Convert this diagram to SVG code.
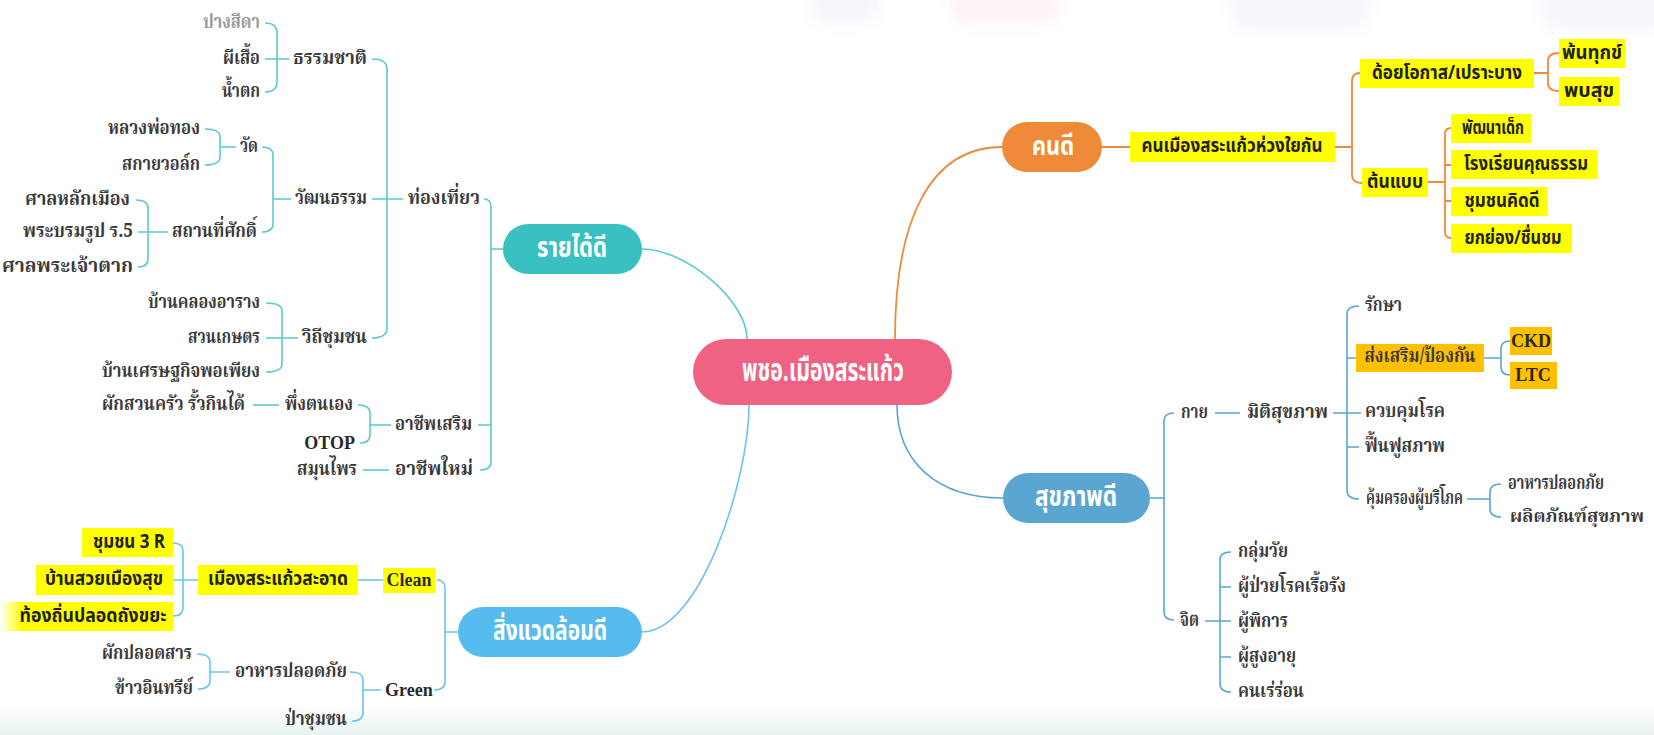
<svg xmlns="http://www.w3.org/2000/svg" width="1654" height="735" viewBox="0 0 1654 735">
<style>
.t{font-family:"Noto Serif Thai","Noto Sans Thai","Noto Sans","DejaVu Sans",sans-serif;font-size:20px;font-weight:bold;fill:#3a3a3a;dominant-baseline:central}
.c{font-family:"Noto Sans Thai","Noto Sans","DejaVu Sans",sans-serif;font-size:19px;font-weight:bold;fill:#222;dominant-baseline:central;text-anchor:middle}
.e{font-family:"Liberation Serif","Times New Roman",serif;font-size:18px;font-weight:bold;fill:#2a2a2a;dominant-baseline:central}
.n{font-family:"Noto Sans Thai","Noto Sans","DejaVu Sans",sans-serif;font-weight:bold;fill:#fff;dominant-baseline:central;text-anchor:middle}
.end{text-anchor:end}
.yl{fill:#ffff00}
.am{fill:#ffc000}
.lt{fill:none;stroke:#5ccaca;stroke-width:1.6}
.lb{fill:none;stroke:#6cc4ee;stroke-width:1.6}
.lo{fill:none;stroke:#ee8b3b;stroke-width:1.8}
.ls{fill:none;stroke:#5aa6d1;stroke-width:1.6}
.wm{opacity:0.07}
</style>
<defs>
<linearGradient id="fade" x1="0" y1="0" x2="1" y2="0">
<stop offset="0" stop-color="#ffff00" stop-opacity="0"/>
<stop offset="0.13" stop-color="#ffff00" stop-opacity="1"/>
<stop offset="1" stop-color="#ffff00"/>
</linearGradient>
<linearGradient id="band" x1="0" y1="0" x2="0" y2="1">
<stop offset="0" stop-color="#ffffff"/>
<stop offset="1" stop-color="#e8f1f1"/>
</linearGradient>
<filter id="blur" x="-20%" y="-50%" width="140%" height="200%"><feGaussianBlur stdDeviation="6"/></filter>
</defs>
<rect width="1654" height="735" fill="#fff"/>
<rect x="0" y="705" width="1654" height="30" fill="url(#band)"/>
<g filter="url(#blur)">
<rect class="wm" x="810" y="-20" width="70" height="45" rx="20" fill="#8a7bd6"/>
<rect class="wm" x="950" y="-20" width="110" height="45" rx="20" fill="#e46a8a"/>
<rect class="wm" x="1230" y="-20" width="140" height="50" rx="20" fill="#8a86d6"/>
<rect class="wm" x="1540" y="-20" width="130" height="50" rx="20" fill="#8a86d6"/>
</g>

<g id="connectors">
<path class="lt" d="M642,249 C685,249 747,300 747,339"/>
<path class="lb" d="M749,405 C749,480 700,632 642,632"/>
<path class="lo" d="M895,339 C895,220 930,147 1002,147"/>
<path class="ls" d="M897,405 C897,460 935,498 1003,498"/>
<path class="lt" d="M265,23 Q277,23 277,33 L277,82 Q277,92 265,92 M265,59 L289,59"/>
<path class="lt" d="M372,59 Q387,59 387,69 L387,328 Q387,338 372,338 M372,199 L403,199"/>
<path class="lt" d="M205,129 Q220,129 220,137 L220,157 Q220,165 205,165 M220,147 L236,147"/>
<path class="lt" d="M262,147 Q273,147 273,155 L273,224 Q273,232 262,232 M273,199 L291,199"/>
<path class="lt" d="M136,200 Q148,200 148,208 L148,259 Q148,267 138,267 M138,232 L168,232"/>
<path class="lt" d="M266,303 Q282,303 282,311 L282,364 Q282,372 266,372 M266,338 L298,338"/>
<path class="lt" d="M253,405 L279,405"/>
<path class="lt" d="M358,405 Q370,405 370,413 L370,435 Q370,443 360,443 M370,425 L391,425"/>
<path class="lt" d="M363,470 L389,470"/>
<path class="lt" d="M484,199 Q491,199 491,207 L491,462 Q491,470 480,470 M478,425 L491,425 M491,249 L503,249"/>
<path class="lb" d="M173,543 Q183,543 183,551 L183,608 Q183,616 173,616 M173,580 L198,580"/>
<path class="lb" d="M358,580 L383,580"/>
<path class="lb" d="M437,580 Q445,580 445,588 L445,682 Q445,690 434,690 M445,632 L458,632"/>
<path class="lb" d="M350,672 Q363,672 363,680 L363,713 Q363,721 352,721 M363,690 L381,690"/>
<path class="lb" d="M197,654 Q210,654 210,662 L210,681 Q210,689 198,689 M210,672 L230,672"/>
<path class="lo" d="M1102,147 L1130,147 M1335,147 L1352,147"/>
<path class="lo" d="M1360,73 Q1352,73 1352,81 L1352,175 Q1352,183 1362,183"/>
<path class="lo" d="M1534,73 L1548,73 M1559,53 Q1548,53 1548,61 L1548,83 Q1548,91 1559,91"/>
<path class="lo" d="M1428,182 L1445,182 M1451,128 Q1445,128 1445,134 L1445,232 Q1445,238 1451,238 M1445,165 L1451,165 M1445,201 L1451,201"/>
<path class="ls" d="M1150,498 L1164,498 M1174,413 Q1164,413 1164,421 L1164,612 Q1164,620 1174,620"/>
<path class="ls" d="M1215,413 L1240,413 M1333,413 L1361,413"/>
<path class="ls" d="M1359,306 Q1347,306 1347,314 L1347,490 Q1347,499 1359,499 M1347,358 L1356,358 M1347,447 L1359,447"/>
<path class="ls" d="M1484,358 L1501,358 M1510,341 Q1501,341 1501,349 L1501,367 Q1501,375 1510,375"/>
<path class="ls" d="M1467,499 L1490,499 M1501,484 Q1490,484 1490,492 L1490,509 Q1490,517 1501,517"/>
<path class="ls" d="M1205,621 L1231,621 M1231,552 Q1220,552 1220,560 L1220,684 Q1220,692 1231,692 M1220,587 L1231,587 M1220,657 L1231,657"/>
</g>

<g id="center">
<rect x="693" y="339" width="259" height="66" rx="33" fill="#f06282"/>
<text class="n" x="823" y="371" font-size="32" textLength="162" lengthAdjust="spacingAndGlyphs">พชอ.เมืองสระแก้ว</text>
</g>

<g id="income">
<rect x="503" y="224" width="139" height="50" rx="25" fill="#38c1c0"/>
<text class="n" x="572" y="248" font-size="29" textLength="70" lengthAdjust="spacingAndGlyphs">รายได้ดี</text>
</g>
<g id="income-children">
<text class="t end" x="260" y="23" style="fill:#999" textLength="57" lengthAdjust="spacingAndGlyphs">ปางสีดา</text>
<text class="t end" x="260" y="59" textLength="37" lengthAdjust="spacingAndGlyphs">ผีเสื้อ</text>
<text class="t end" x="260" y="92" textLength="38" lengthAdjust="spacingAndGlyphs">น้ำตก</text>
<text class="t" x="293" y="59" textLength="74" lengthAdjust="spacingAndGlyphs">ธรรมชาติ</text>
<text class="t end" x="200" y="129" textLength="92" lengthAdjust="spacingAndGlyphs">หลวงพ่อทอง</text>
<text class="t end" x="200" y="165" textLength="78" lengthAdjust="spacingAndGlyphs">สกายวอล์ก</text>
<text class="t" x="240" y="147" textLength="18" lengthAdjust="spacingAndGlyphs">วัด</text>
<text class="t" x="295" y="199" textLength="72" lengthAdjust="spacingAndGlyphs">วัฒนธรรม</text>
<text class="t" x="408" y="199" textLength="72" lengthAdjust="spacingAndGlyphs">ท่องเที่ยว</text>
<text class="t end" x="130" y="200" textLength="105" lengthAdjust="spacingAndGlyphs">ศาลหลักเมือง</text>
<text class="t end" x="133" y="232" textLength="110" lengthAdjust="spacingAndGlyphs">พระบรมรูป ร.5</text>
<text class="t" x="172" y="232" textLength="85" lengthAdjust="spacingAndGlyphs">สถานที่ศักดิ์</text>
<text class="t end" x="133" y="267" textLength="131" lengthAdjust="spacingAndGlyphs">ศาลพระเจ้าตาก</text>
<text class="t end" x="260" y="303" textLength="112" lengthAdjust="spacingAndGlyphs">บ้านคลองอาราง</text>
<text class="t end" x="260" y="338" textLength="72" lengthAdjust="spacingAndGlyphs">สวนเกษตร</text>
<text class="t end" x="260" y="372" textLength="158" lengthAdjust="spacingAndGlyphs">บ้านเศรษฐกิจพอเพียง</text>
<text class="t" x="302" y="338" textLength="65" lengthAdjust="spacingAndGlyphs">วิถีชุมชน</text>
<text class="t end" x="245" y="405" textLength="143" lengthAdjust="spacingAndGlyphs">ผักสวนครัว รั้วกินได้</text>
<text class="t" x="285" y="405" textLength="68" lengthAdjust="spacingAndGlyphs">พึ่งตนเอง</text>
<text class="e end" x="355" y="443">OTOP</text>
<text class="t" x="395" y="425" textLength="77" lengthAdjust="spacingAndGlyphs">อาชีพเสริม</text>
<text class="t end" x="357" y="470" textLength="60" lengthAdjust="spacingAndGlyphs">สมุนไพร</text>
<text class="t" x="395" y="470" textLength="78" lengthAdjust="spacingAndGlyphs">อาชีพใหม่</text>
</g>

<g id="environment">
<rect x="458" y="607" width="184" height="50" rx="25" fill="#56bcee"/>
<text class="n" x="550" y="631" font-size="29" textLength="114" lengthAdjust="spacingAndGlyphs">สิ่งแวดล้อมดี</text>
</g>
<g id="environment-children">
<rect class="yl" x="82" y="528" width="91" height="29"/>
<text class="c" x="129" y="542" textLength="72" lengthAdjust="spacingAndGlyphs">ชุมชน 3 R</text>
<rect class="yl" x="36" y="565" width="137" height="30"/>
<text class="c" x="104" y="579" textLength="118" lengthAdjust="spacingAndGlyphs">บ้านสวยเมืองสุข</text>
<rect x="0" y="602" width="173" height="29" fill="url(#fade)"/>
<text class="c" x="93" y="616" textLength="147" lengthAdjust="spacingAndGlyphs">ท้องถิ่นปลอดถังขยะ</text>
<rect class="yl" x="198" y="565" width="160" height="30"/>
<text class="c" x="278" y="579" textLength="140" lengthAdjust="spacingAndGlyphs">เมืองสระแก้วสะอาด</text>
<rect class="yl" x="383" y="568" width="52" height="25"/>
<text class="e" x="409" y="580" text-anchor="middle">Clean</text>
<text class="e" x="385" y="690">Green</text>
<text class="t" x="235" y="672" textLength="112" lengthAdjust="spacingAndGlyphs">อาหารปลอดภัย</text>
<text class="t end" x="347" y="720" textLength="62" lengthAdjust="spacingAndGlyphs">ป่าชุมชน</text>
<text class="t end" x="192" y="654" textLength="90" lengthAdjust="spacingAndGlyphs">ผักปลอดสาร</text>
<text class="t end" x="193" y="689" textLength="78" lengthAdjust="spacingAndGlyphs">ข้าวอินทรีย์</text>
</g>

<g id="good-people">
<rect x="1002" y="122" width="100" height="50" rx="25" fill="#ee8a38"/>
<text class="n" x="1053" y="146" font-size="27" textLength="42" lengthAdjust="spacingAndGlyphs">คนดี</text>
</g>
<g id="good-people-children">
<rect class="yl" x="1130" y="132" width="205" height="30"/>
<text class="c" x="1232" y="146" textLength="181" lengthAdjust="spacingAndGlyphs">คนเมืองสระแก้วห่วงใยกัน</text>
<rect class="yl" x="1360" y="59" width="174" height="29"/>
<text class="c" x="1447" y="73" textLength="150" lengthAdjust="spacingAndGlyphs">ด้อยโอกาส/เปราะบาง</text>
<rect class="yl" x="1559" y="39" width="66" height="29"/>
<text class="c" x="1592" y="53" textLength="60" lengthAdjust="spacingAndGlyphs">พ้นทุกข์</text>
<rect class="yl" x="1559" y="77" width="60" height="29"/>
<text class="c" x="1589" y="91" textLength="50" lengthAdjust="spacingAndGlyphs">พบสุข</text>
<rect class="yl" x="1362" y="168" width="66" height="29"/>
<text class="c" x="1395" y="182" textLength="56" lengthAdjust="spacingAndGlyphs">ต้นแบบ</text>
<rect class="yl" x="1451" y="114" width="80" height="29"/>
<text class="c" x="1493" y="128" textLength="62" lengthAdjust="spacingAndGlyphs">พัฒนาเด็ก</text>
<rect class="yl" x="1451" y="150" width="146" height="29"/>
<text class="c" x="1526" y="164" textLength="124" lengthAdjust="spacingAndGlyphs">โรงเรียนคุณธรรม</text>
<rect class="yl" x="1451" y="187" width="96" height="29"/>
<text class="c" x="1502" y="201" textLength="75" lengthAdjust="spacingAndGlyphs">ชุมชนคิดดี</text>
<rect class="yl" x="1451" y="224" width="121" height="29"/>
<text class="c" x="1513" y="238" textLength="97" lengthAdjust="spacingAndGlyphs">ยกย่อง/ชื่นชม</text>
</g>

<g id="health">
<rect x="1003" y="473" width="147" height="50" rx="25" fill="#5aa6d1"/>
<text class="n" x="1076" y="497" font-size="29" textLength="82" lengthAdjust="spacingAndGlyphs">สุขภาพดี</text>
</g>
<g id="health-children">
<text class="t" x="1181" y="413" textLength="27" lengthAdjust="spacingAndGlyphs">กาย</text>
<text class="t" x="1247" y="413" textLength="81" lengthAdjust="spacingAndGlyphs">มิติสุขภาพ</text>
<text class="t" x="1365" y="306" textLength="37" lengthAdjust="spacingAndGlyphs">รักษา</text>
<rect class="am" x="1356" y="344" width="128" height="28"/>
<text class="t" x="1420" y="357" text-anchor="middle" textLength="111" lengthAdjust="spacingAndGlyphs">ส่งเสริม/ป้องกัน</text>
<rect class="am" x="1510" y="327" width="42" height="28"/>
<text class="e" x="1531" y="341" text-anchor="middle">CKD</text>
<rect class="am" x="1510" y="362" width="47" height="27"/>
<text class="e" x="1533" y="375" text-anchor="middle">LTC</text>
<text class="t" x="1365" y="412" textLength="80" lengthAdjust="spacingAndGlyphs">ควบคุมโรค</text>
<text class="t" x="1365" y="447" textLength="80" lengthAdjust="spacingAndGlyphs">ฟื้นฟูสภาพ</text>
<text class="t" x="1366" y="499" textLength="97" lengthAdjust="spacingAndGlyphs">คุ้มครองผู้บริโภค</text>
<text class="t" x="1508" y="484" textLength="96" lengthAdjust="spacingAndGlyphs">อาหารปลอกภัย</text>
<text class="t" x="1510" y="517" font-size="17" style="font-size:17px" textLength="134" lengthAdjust="spacingAndGlyphs">ผลิตภัณฑ์สุขภาพ</text>
<text class="t" x="1180" y="621" textLength="19" lengthAdjust="spacingAndGlyphs">จิต</text>
<text class="t" x="1238" y="552" textLength="50" lengthAdjust="spacingAndGlyphs">กลุ่มวัย</text>
<text class="t" x="1238" y="587" textLength="108" lengthAdjust="spacingAndGlyphs">ผู้ป่วยโรคเรื้อรัง</text>
<text class="t" x="1238" y="622" textLength="50" lengthAdjust="spacingAndGlyphs">ผู้พิการ</text>
<text class="t" x="1238" y="657" textLength="58" lengthAdjust="spacingAndGlyphs">ผู้สูงอายุ</text>
<text class="t" x="1238" y="692" textLength="66" lengthAdjust="spacingAndGlyphs">คนเร่ร่อน</text>
</g>
</svg>
